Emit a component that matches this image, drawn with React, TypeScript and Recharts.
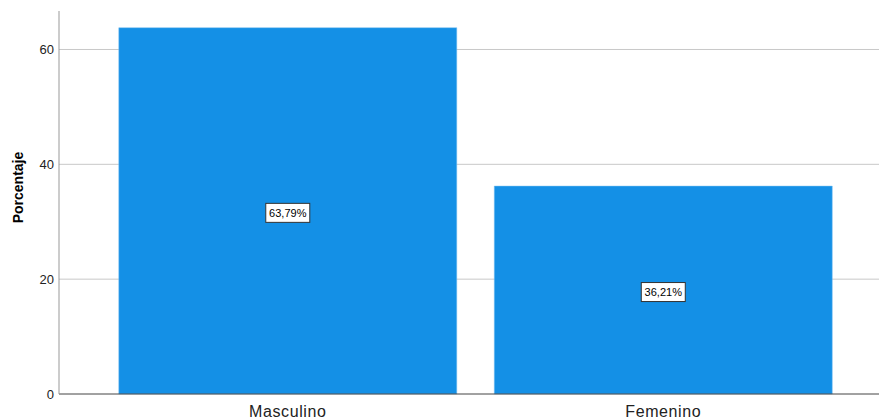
import React from 'react';
import { BarChart, Bar, XAxis, YAxis, CartesianGrid, LabelList } from 'recharts';

const categories = ['Masculino', 'Femenino'];
const percentages = [63.79, 36.21];
const percentLabels = ['63,79%', '36,21%'];
const yTicks = [0, 20, 40, 60];

const data = categories.map((c, i) => ({ name: c, value: percentages[i], label: percentLabels[i] }));

const BoxLabel = (props: any) => {
  const { x, y, width, height, index } = props;
  const cx = x + width / 2;
  const cy = y + height / 2;
  const text = percentLabels[index];
  const w = 44;
  const h = 19;
  return (
    <g>
      <rect x={cx - w / 2} y={cy - h / 2 + 2} width={w} height={h} fill="#ffffff" stroke="#333333" strokeWidth={1} />
      <text x={cx} y={cy + 2} textAnchor="middle" dominantBaseline="central" fontSize={11} fill="#000" fontFamily="Arial, 'Liberation Sans', sans-serif">
        {text}
      </text>
    </g>
  );
};

const XTick = (props: any) => {
  const { x, y, payload } = props;
  return (
    <text x={x} y={y + 15} textAnchor="middle" fontSize={16} letterSpacing={0.6} fill="#222" fontFamily="Arial, 'Liberation Sans', sans-serif">
      {payload.value}
    </text>
  );
};

const YLabel = (props: any) => {
  const { viewBox } = props;
  const x = 18;
  const y = viewBox.y + viewBox.height / 2 - 15;
  return (
    <text x={x} y={y} transform={`rotate(-90, ${x}, ${y})`} textAnchor="middle" dominantBaseline="central" fontSize={14} fontWeight="bold" fill="#000" fontFamily="Arial, 'Liberation Sans', sans-serif">
      Porcentaje
    </text>
  );
};

export default function App() {
  return (
    <div style={{ position: 'fixed', left: 0, top: 0, width: 879, height: 419, background: '#fff' }}>
      <BarChart width={879} height={419} data={data} margin={{ top: 11, right: 0, bottom: 0, left: 0 }} barCategoryGap="5%">
        <CartesianGrid vertical={false} horizontalValues={[20, 40, 60]} stroke="#c8c8c8" strokeWidth={1} />
        <XAxis
          dataKey="name"
          height={25}
          padding={{ left: 41, right: 28 }}
          tickLine={false}
          axisLine={{ stroke: '#444', strokeWidth: 1 }}
          tick={<XTick />}
          interval={0}
        />
        <YAxis
          width={59}
          domain={[0, 66.7]}
          ticks={yTicks}
          tickLine={false}
          tickSize={0}
          tickMargin={5}
          axisLine={{ stroke: '#999', strokeWidth: 1 }}
          tick={{ fontSize: 13, fill: '#222', fontFamily: "Arial, 'Liberation Sans', sans-serif" }}
          label={<YLabel />}
        />
        <Bar dataKey="value" fill="#1490e6" stroke="#7cc0f0" strokeWidth={0.5} isAnimationActive={false}>
          <LabelList dataKey="value" content={<BoxLabel />} />
        </Bar>
      </BarChart>
    </div>
  );
}
